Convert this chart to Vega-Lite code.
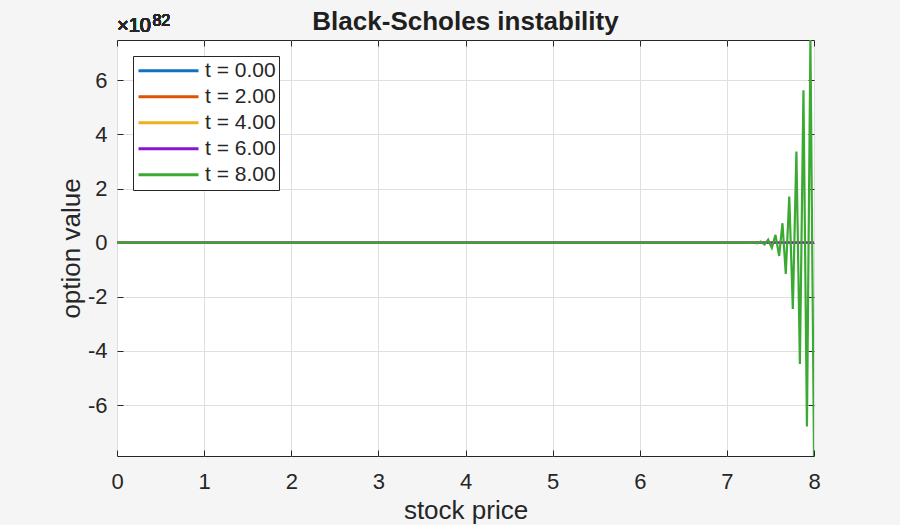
{
  "$schema": "https://vega.github.io/schema/vega-lite/v6.json",
  "width": 697,
  "height": 416,
  "autosize": {"type": "none"},
  "padding": {"left": 117, "top": 40, "right": 86, "bottom": 69},
  "background": "#f5f5f5",
  "title": {
    "text": "Black-Scholes instability",
    "font": "Liberation Sans",
    "fontSize": 26,
    "fontWeight": "bold",
    "color": "#1f1f1f",
    "anchor": "middle",
    "frame": "group",
    "baseline": "alphabetic",
    "offset": 0,
    "dy": 43
  },
  "data": {
    "values": [
      {"t": "t = 0.00", "S": 0, "V": 0},
      {"t": "t = 0.00", "S": 8, "V": 0},
      {"t": "t = 2.00", "S": 0, "V": 0},
      {"t": "t = 2.00", "S": 8, "V": 0},
      {"t": "t = 4.00", "S": 0, "V": 0},
      {"t": "t = 4.00", "S": 8, "V": 0},
      {"t": "t = 6.00", "S": 0, "V": 0},
      {"t": "t = 6.00", "S": 8, "V": 0},
      {"t": "t = 8.00", "S": 0, "V": 0},
      {"t": "t = 8.00", "S": 7.23, "V": 0},
      {"t": "t = 8.00", "S": 7.27, "V": -0.01},
      {"t": "t = 8.00", "S": 7.31, "V": 0.015},
      {"t": "t = 8.00", "S": 7.35, "V": -0.025},
      {"t": "t = 8.00", "S": 7.39, "V": 0.04},
      {"t": "t = 8.00", "S": 7.432, "V": -0.065},
      {"t": "t = 8.00", "S": 7.474, "V": 0.11},
      {"t": "t = 8.00", "S": 7.516, "V": -0.19},
      {"t": "t = 8.00", "S": 7.558, "V": 0.29},
      {"t": "t = 8.00", "S": 7.6, "V": -0.49},
      {"t": "t = 8.00", "S": 7.638, "V": 0.72},
      {"t": "t = 8.00", "S": 7.676, "V": -1.15},
      {"t": "t = 8.00", "S": 7.716, "V": 1.71},
      {"t": "t = 8.00", "S": 7.757, "V": -2.45},
      {"t": "t = 8.00", "S": 7.798, "V": 3.37},
      {"t": "t = 8.00", "S": 7.838, "V": -4.48},
      {"t": "t = 8.00", "S": 7.879, "V": 5.63},
      {"t": "t = 8.00", "S": 7.919, "V": -6.79},
      {"t": "t = 8.00", "S": 7.959, "V": 7.49},
      {"t": "t = 8.00", "S": 8.0, "V": -7.88}
    ]
  },
  "layer": [
    {
      "mark": {"type": "line", "strokeWidth": 2.2, "clip": true},
      "encoding": {
        "x": {
          "field": "S", "type": "quantitative",
          "scale": {"domain": [0, 8], "nice": false, "zero": false},
          "axis": {
            "orient": "bottom",
            "values": [0, 1, 2, 3, 4, 5, 6, 7, 8],
            "tickSize": -6,
            "labelPadding": 21,
            "labelFlush": false,
            "labelOverlap": false,
            "title": "stock price",
            "titlePadding": 5
          }
        },
        "y": {
          "field": "V", "type": "quantitative",
          "scale": {"domain": [-7.88, 7.49], "nice": false, "zero": false},
          "axis": {
            "orient": "left",
            "values": [-6, -4, -2, 0, 2, 4, 6],
            "labelExpr": "datum.value < 0 ? '-' + abs(datum.value) : '' + datum.value",
            "tickSize": -6,
            "labelPadding": 16,
            "labelFlush": false,
            "labelOverlap": false,
            "title": "option value",
            "titlePadding": 3
          }
        },
        "color": {
          "field": "t", "type": "nominal",
          "scale": {
            "domain": ["t = 0.00", "t = 2.00", "t = 4.00", "t = 6.00", "t = 8.00"],
            "range": ["#1171BE", "#DD5400", "#EDB120", "#8516D1", "#3BAA32"]
          },
          "legend": {
            "orient": "none",
            "legendX": 16,
            "legendY": 16,
            "title": null,
            "symbolType": "stroke",
            "symbolSize": 3600,
            "symbolStrokeWidth": 3,
            "clipHeight": 23.7,
            "rowPadding": 2,
            "padding": 3,
            "symbolOffset": 1,
            "labelOffset": 5,
            "labelFontSize": 21,
            "labelFont": "Liberation Sans",
            "labelColor": "#262626",
            "strokeColor": "#262626",
            "fillColor": "white",
            "cornerRadius": 0
          }
        }
      }
    },
    {
      "mark": {"type": "text", "text": "×10", "fontSize": 20, "align": "left", "baseline": "alphabetic", "dy": -8, "font": "Liberation Sans", "color": "#262626"},
      "encoding": {
        "x": {"datum": 0, "type": "quantitative", "axis": {"orient": "top", "values": [0, 1, 2, 3, 4, 5, 6, 7, 8], "tickSize": -6, "labels": false, "grid": false, "domain": false, "title": null}},
        "y": {"datum": 7.49, "type": "quantitative", "axis": {"orient": "right", "values": [-6, -4, -2, 0, 2, 4, 6], "tickSize": -6, "labels": false, "grid": false, "domain": false, "title": null}}
      }
    },
    {
      "mark": {"type": "text", "text": "82", "fontSize": 16, "align": "left", "baseline": "alphabetic", "dx": 35.4, "dy": -14, "font": "Liberation Sans", "color": "#262626"},
      "encoding": {
        "x": {"datum": 0, "type": "quantitative", "axis": null},
        "y": {"datum": 7.49, "type": "quantitative", "axis": null}
      }
    }
  ],
  "resolve": {"axis": {"x": "independent", "y": "independent"}},
  "config": {
    "view": {"stroke": "#262626", "strokeWidth": 1, "fill": "white"},
    "axis": {
      "labelFont": "Liberation Sans",
      "labelFontSize": 22,
      "labelColor": "#262626",
      "titleFont": "Liberation Sans",
      "titleFontSize": 26,
      "titleFontWeight": "normal",
      "titleColor": "#262626",
      "tickColor": "#262626",
      "tickWidth": 1,
      "domain": false,
      "grid": true,
      "gridColor": "#dfdfdf",
      "gridWidth": 1
    }
  }
}
